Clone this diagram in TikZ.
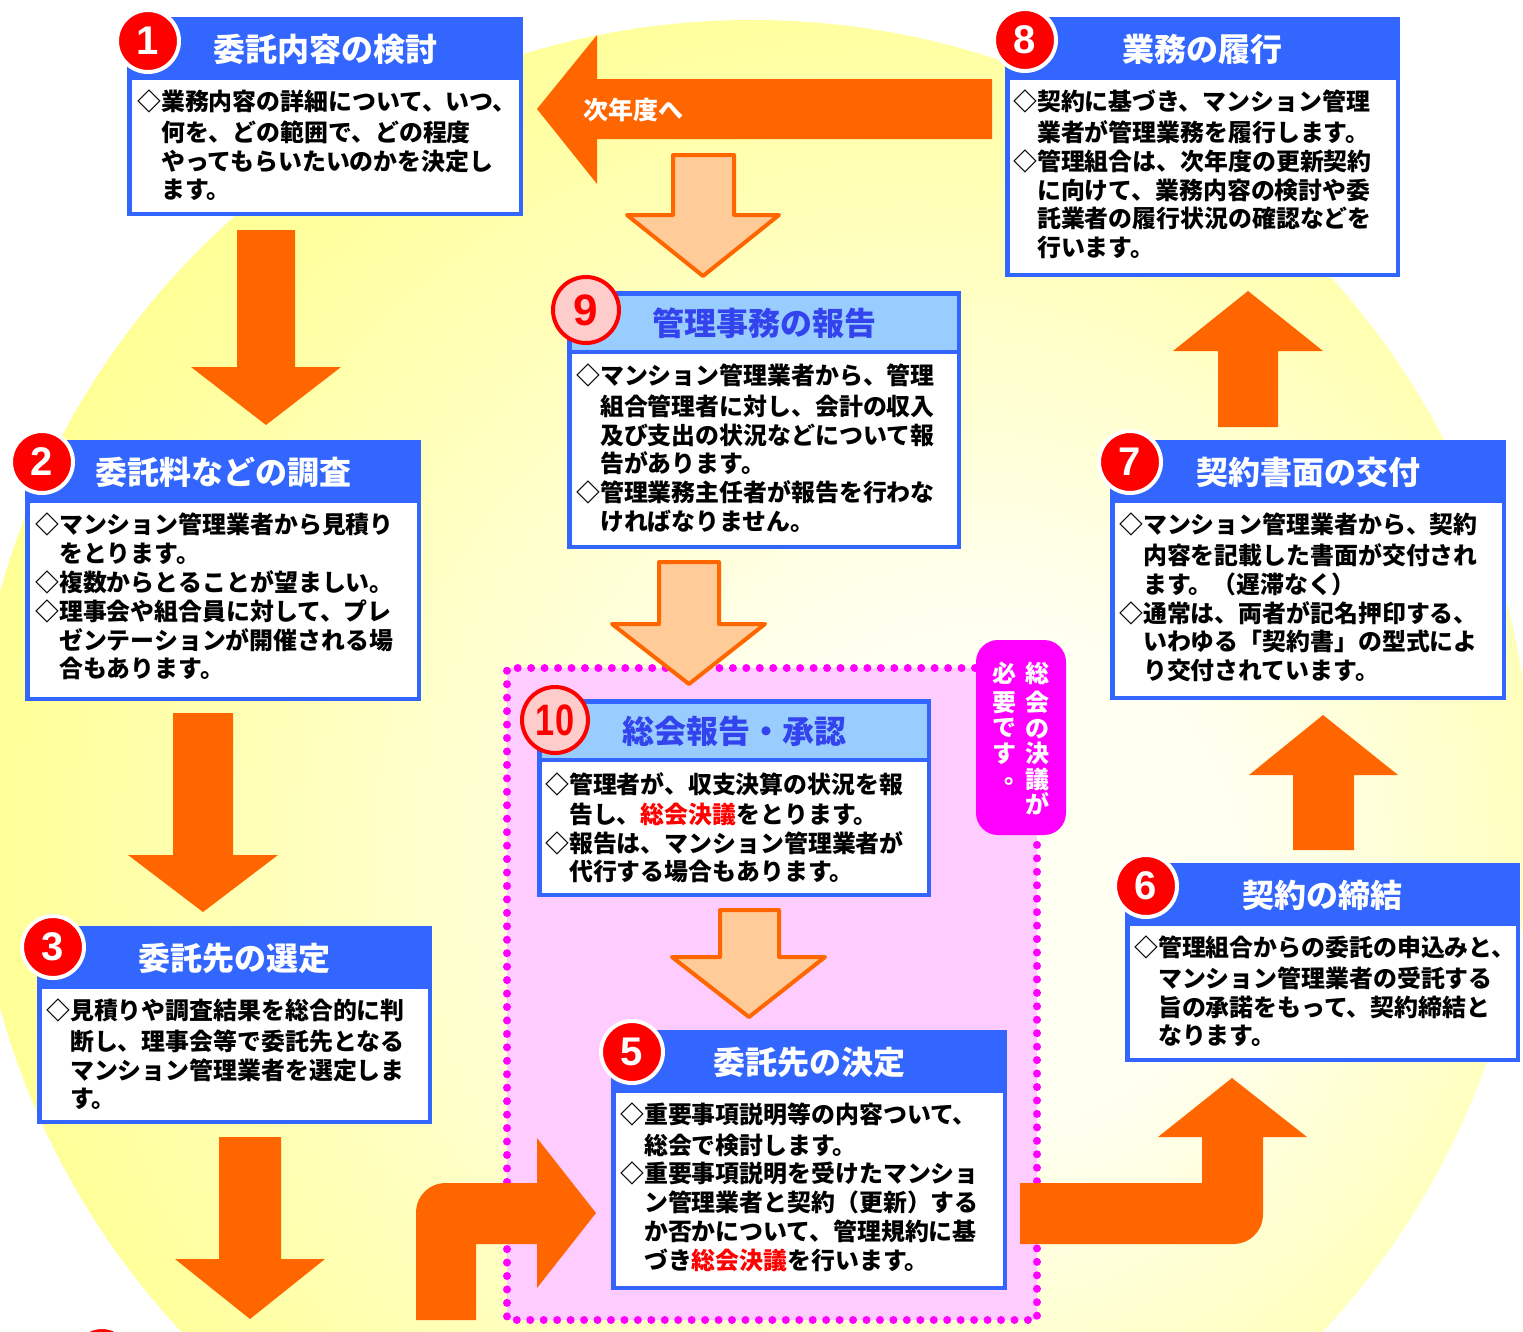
\documentclass[tikz,border=0pt]{standalone}
\usepackage{fontspec}
\setmainfont{Noto Sans CJK JP}
\newfontfamily\numfont{Liberation Sans}
\usetikzlibrary{calc}
\definecolor{boxblue}{HTML}{3366FF}
\definecolor{ltblue}{HTML}{99CCFF}
\definecolor{ttlblue}{HTML}{3344EE}
\definecolor{orng}{HTML}{FF6600}
\definecolor{ltorng}{HTML}{FFCC99}
\definecolor{pinkbg}{HTML}{FFCCFF}
\definecolor{mag}{HTML}{FF00FF}
\definecolor{ylw}{HTML}{FFFF66}
\definecolor{ylwmid}{HTML}{FFFF99}
\definecolor{ylwin}{HTML}{FFFFF2}
\definecolor{numred}{HTML}{FF0000}
\definecolor{numpink}{HTML}{FFCCCC}
\pgfdeclareradialshading{sunball}{\pgfpoint{9bp}{-3bp}}{color(0bp)=(ylwin); color(8bp)=(ylwin); color(28bp)=(ylwmid); color(42bp)=(ylw); color(50bp)=(ylw)}
\tikzset{
  ttltxt/.style={inner sep=0pt, text height=28.2pt, text depth=3.8pt, font=\fontsize{32}{38}\selectfont\bfseries},
  bodytxt/.style={anchor=north west, inner sep=0pt, align=left, font=\fontsize{23.9}{28.8}\selectfont\bfseries},
  numc/.style={circle, inner sep=0pt, minimum size=62pt, fill=numred, draw=white, line width=4pt, text=white, font=\numfont\bfseries\fontsize{40}{40}\selectfont},
  numcb/.style={circle, inner sep=0pt, minimum size=66pt, fill=numpink, draw=numred, line width=4pt, text=numred, font=\numfont\bfseries\fontsize{44}{44}\selectfont},
  darr/.style={fill=orng},
  larr/.style={fill=ltorng, draw=orng, line width=4pt, line join=round},
  vlab/.style={inner sep=0pt, align=center, text=white, font=\fontsize{24}{25.4}\selectfont\bfseries},
}
\newcommand\flowbox[8]{%
  \pgfmathsetmacro\fbxa{#2+4.5}\pgfmathsetmacro\fbxb{#4-4.5}%
  \pgfmathsetmacro\fbya{#3+4.5}\pgfmathsetmacro\fbyb{#3+59}%
  \pgfmathsetmacro\fbyc{#3+63}\pgfmathsetmacro\fbyd{#5-4.5}%
  \pgfmathsetmacro\fbcx{(#2+#4)/2}\pgfmathsetmacro\fbcy{#3+32}%
  \fill[boxblue] (#2,#3) rectangle (#4,#5);
  \fill[#6] (\fbxa,\fbya) rectangle (\fbxb,\fbyb);
  \fill[white] (\fbxa,\fbyc) rectangle (\fbxb,\fbyd);
  \node[ttltxt,text=#7] (#1) at (\fbcx,\fbcy) {#8};
}
\newcommand\ind{\hspace*{1em}}
\begin{document}
\begin{tikzpicture}[x=1pt,y=-1pt]
\useasboundingbox (0,0) rectangle (1523,1331);
\clip (0,0) rectangle (1523,1331);
\fill[white] (0,0) rectangle (1523,1331);
% background ball
\shade[shading=sunball] (752,800) circle[radius=780];
% pink area
\fill[pinkbg] (507,668) rectangle (1037,1320);
\draw[mag, line width=8pt, line cap=round, dash pattern=on 0pt off 13.45pt] (975,668) -- (507,668) -- (507,1320) -- (1037,1320) -- (1037,835);
% dark arrows
\fill[darr] (237,230) -- (295,230) -- (295,367) -- (341,367) -- (266,425) -- (191,367) -- (237,367) -- cycle;
\fill[darr] (173,713) -- (233,713) -- (233,855) -- (278,855) -- (203,912) -- (128,855) -- (173,855) -- cycle;
\fill[darr] (219,1137) -- (281,1137) -- (281,1259) -- (325,1259) -- (250,1319) -- (175,1259) -- (219,1259) -- cycle;
\fill[darr] (1293,850) -- (1354,850) -- (1354,775) -- (1398,775) -- (1323,715) -- (1249,775) -- (1293,775) -- cycle;
\fill[darr] (1218,427) -- (1278,427) -- (1278,351) -- (1323,351) -- (1248,291) -- (1173,351) -- (1218,351) -- cycle;
\fill[darr] (992,79) -- (597,79) -- (597,35) -- (537,109) -- (597,184) -- (597,139) -- (992,139) -- cycle;
\fill[darr] (416,1320) -- (416,1213) .. controls (416,1196) and (429,1183) .. (446,1183) -- (537,1183) -- (537,1138) -- (596,1213) -- (537,1288) -- (537,1244) -- (476,1244) -- (476,1320) -- cycle;
\fill[darr] (1020,1183) -- (1202,1183) -- (1202,1137) -- (1158,1137) -- (1232,1078) -- (1307,1137) -- (1263,1137) -- (1263,1214) .. controls (1263,1231) and (1250,1244) .. (1233,1244) -- (1020,1244) -- cycle;
% light arrows
\draw[larr] (673,155) -- (734,155) -- (734,215) -- (779,215) -- (703,276) -- (627,215) -- (673,215) -- cycle;
\draw[larr] (659,562) -- (719,562) -- (719,624) -- (765,624) -- (689,684) -- (612,624) -- (659,624) -- cycle;
\draw[larr] (720,910) -- (779,910) -- (779,957) -- (825,957) -- (749,1017) -- (672,957) -- (720,957) -- cycle;
\node[font=\fontsize{25}{25}\selectfont\bfseries, text=white, inner sep=0pt, text height=22pt, text depth=3pt, anchor=west] (nextyr) at (583,110) {次年度へ};
% magenta label
\fill[mag, rounded corners=22pt] (976,640) rectangle (1066,835);
\node[vlab, anchor=north] (vl1) at (1037,662) {\strut 総\\会\\の\\決\\議\\が};
\node[vlab, anchor=north] (vl2) at (1004,662) {\strut 必\\要\\で\\す\\\makebox[1em][l]{\hspace*{0.5em}\raisebox{0.15em}{。}}};
% boxes
\flowbox{t1}{127}{17}{523}{216}{boxblue}{white}{委託内容の検討}
\node[bodytxt] (b1) at (137,90) {\strut◇業務内容の詳細について、いつ、\\\ind 何を、どの範囲で、どの程度\\\ind やってもらいたいのかを決定し\\\ind ます。};
\flowbox{t8}{1005}{17}{1400}{277}{boxblue}{white}{業務の履行}
\node[bodytxt] (b8) at (1013,90) {\strut◇契約に基づき、マンション管理\\\ind 業者が管理業務を履行します。\\◇管理組合は、次年度の更新契約\\\ind に向けて、業務内容の検討や委\\\ind 託業者の履行状況の確認などを\\\ind 行います。};
\flowbox{t9}{567}{291}{961}{549}{ltblue}{ttlblue}{管理事務の報告}
\node[bodytxt] (b9) at (576,364) {\strut◇マンション管理業者から、管理\\\ind 組合管理者に対し、会計の収入\\\ind 及び支出の状況などについて報\\\ind 告があります。\\◇管理業務主任者が報告を行わな\\\ind ければなりません。};
\flowbox{t10}{537}{699}{931}{897}{ltblue}{ttlblue}{総会報告・承認}
\node[bodytxt] (b10) at (545,772) {\strut◇管理者が、収支決算の状況を報\\\ind 告し、\textcolor{numred}{総会決議}をとります。\\◇報告は、マンション管理業者が\\\ind 代行する場合もあります。};
\flowbox{t5}{611}{1030}{1007}{1290}{boxblue}{white}{委託先の決定}
\node[bodytxt] (b5) at (620,1103) {\strut◇重要事項説明等の内容ついて、\\\ind 総会で検討します。\\◇重要事項説明を受けたマンショ\\\ind ン管理業者と契約（更新）する\\\ind か否かについて、管理規約に基\\\ind づき\textcolor{numred}{総会決議}を行います。};
\flowbox{t2}{25}{440}{421}{701}{boxblue}{white}{委託料などの調査}
\node[bodytxt] (b2) at (35,513) {\strut◇マンション管理業者から見積り\\\ind をとります。\\◇複数からとることが望ましい。\\◇理事会や組合員に対して、プレ\\\ind ゼンテーションが開催される場\\\ind 合もあります。};
\flowbox{t3}{37}{926}{432}{1124}{boxblue}{white}{委託先の選定}
\node[bodytxt] (b3) at (46,999) {\strut◇見積りや調査結果を総合的に判\\\ind 断し、理事会等で委託先となる\\\ind マンション管理業者を選定しま\\\ind す。};
\flowbox{t7}{1110}{440}{1506}{700}{boxblue}{white}{契約書面の交付}
\node[bodytxt] (b7) at (1119,513) {\strut◇マンション管理業者から、契約\\\ind 内容を記載した書面が交付され\\\ind ます。（遅滞なく）\\◇通常は、両者が記名押印する、\\\ind いわゆる「契約書」の型式によ\\\ind り交付されています。};
\flowbox{t6}{1125}{863}{1520}{1062}{boxblue}{white}{契約の締結}
\node[bodytxt] (b6) at (1134,936) {\strut◇管理組合からの委託の申込みと、\\\ind マンション管理業者の受託する\\\ind 旨の承諾をもって、契約締結と\\\ind なります。};
% number circles
\node[numc] (n1) at (148,41) {1};
\node[numc] (n8) at (1025,40) {8};
\node[numc] (n2) at (42,462) {2};
\node[numc] (n7) at (1130,462) {7};
\node[numc] (n6) at (1146,886) {6};
\node[numc] (n3) at (53,947) {3};
\node[numc] (n5) at (632,1052) {5};
\node[numc] (n4) at (102,1358) {};
\node[numcb] (n9) at (586,310) {9};
\node[numcb] (n10) at (555,720) {\scalebox{0.78}[1]{10}};
\end{tikzpicture}
\end{document}
